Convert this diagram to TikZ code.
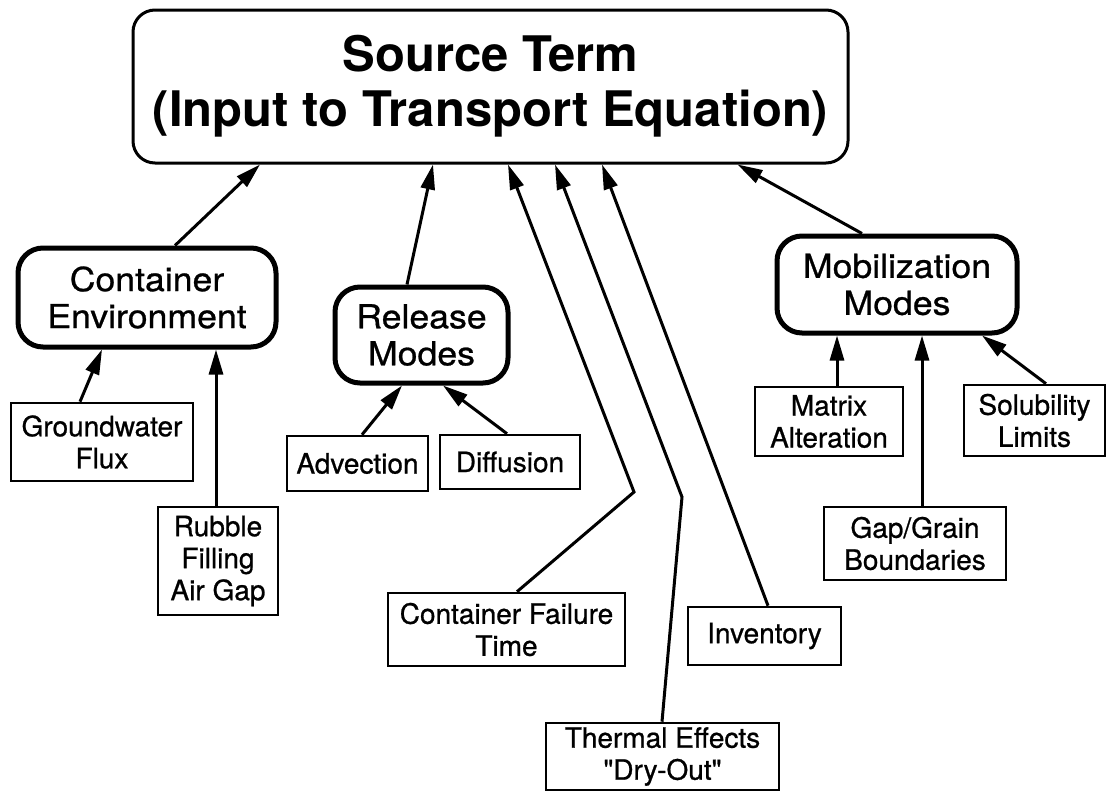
\documentclass[tikz,border=0pt]{standalone}
\usepackage{fontspec}
\setmainfont{TeX Gyre Heros}
\newfontfamily\widefont[FakeStretch=1.08,FakeBold=0.8]{TeX Gyre Heros}
\newfontfamily\factorfont[FakeBold=0.8]{TeX Gyre Heros}
\usetikzlibrary{arrows.meta}
\tikzset{
  titlebox/.style={draw, line width=3pt, rounded corners=22pt, align=center, inner sep=0pt,
    font=\bfseries\fontsize{49pt}{55pt}\selectfont},
  groupbox/.style={draw, line width=5pt, rounded corners=25pt, align=center, inner sep=0pt,
    font=\widefont\fontsize{33pt}{37pt}\selectfont},
  factorbox/.style={draw, line width=2.6pt, align=center, inner sep=0pt,
    font=\factorfont\fontsize{28pt}{32pt}\selectfont},
  link/.style={line width=3pt, -{Triangle[length=25pt,width=14pt]}},
}
\begin{document}
\begin{tikzpicture}[x=1pt,y=-1pt]
\useasboundingbox (0,0) rectangle (1107,793);
% main nodes
\node[titlebox, minimum width=715pt, minimum height=153pt] (src) at (490.5,86.5)
  {Source Term\\(Input to Transport Equation)};
\node[groupbox, minimum width=258pt, minimum height=99pt] (ce) at (147,297.5)
  {Container\\Environment};
\node[groupbox, minimum width=173pt, minimum height=96pt] (rel) at (421.5,335)
  {Release\\Modes};
\node[groupbox, minimum width=240pt, minimum height=97pt] (mob) at (897,284.5)
  {Mobilization\\Modes};
% factor nodes
\node[factorbox, minimum width=182pt, minimum height=78pt] (gw) at (102,442) {Groundwater\\Flux};
\node[factorbox, minimum width=120pt, minimum height=108pt] (rub) at (218,561) {Rubble\\Filling\\Air Gap};
\node[factorbox, minimum width=141pt, minimum height=55pt] (adv) at (357.5,463.5) {Advection};
\node[factorbox, minimum width=140pt, minimum height=54pt] (dif) at (510,462) {Diffusion};
\node[factorbox, minimum width=237pt, minimum height=73pt] (cft) at (506.5,629.5) {Container Failure\\Time};
\node[factorbox, minimum width=153pt, minimum height=58pt] (inv) at (764.5,636) {Inventory};
\node[factorbox, minimum width=233pt, minimum height=67pt] (th) at (662.5,756.5) {Thermal Effects\\\symbol{34}Dry-Out\symbol{34}};
\node[factorbox, minimum width=148pt, minimum height=69pt] (mat) at (829,421.5) {Matrix\\Alteration};
\node[factorbox, minimum width=141pt, minimum height=71pt] (sol) at (1034.5,420.5) {Solubility\\Limits};
\node[factorbox, minimum width=182pt, minimum height=73pt] (gap) at (915,543.5) {Gap/Grain\\Boundaries};
% bend points
\coordinate (b1) at (634,492);
\coordinate (b2) at (682,497);
% connectors to source term
\draw[link] ([xshift=28pt]ce.north) -- ([xshift=-230.5pt]src.south);
\draw[link] ([xshift=-14.5pt]rel.north) -- ([xshift=-57.5pt]src.south);
\draw[link] ([xshift=10.5pt]cft.north) -- (b1) -- ([xshift=17.5pt]src.south);
\draw[link] ([xshift=-0.5pt]th.north) -- (b2) -- ([xshift=64.5pt]src.south);
\draw[link] ([xshift=3.5pt]inv.north) -- ([xshift=111.5pt]src.south);
\draw[link] ([xshift=-35pt]mob.north) -- ([xshift=247pt]src.south);
% connectors to groups
\draw[link] ([xshift=-22pt]gw.north) -- ([xshift=-45pt]ce.south);
\draw[link] ([xshift=-2pt]rub.north) -- ([xshift=69pt]ce.south);
\draw[link] ([xshift=4.5pt]adv.north) -- ([xshift=-19.5pt]rel.south);
\draw[link] ([xshift=-3pt]dif.north) -- ([xshift=21.5pt]rel.south);
\draw[link] ([xshift=8pt]mat.north) -- ([xshift=-60pt]mob.south);
\draw[link] ([xshift=7pt]gap.north) -- ([xshift=25pt]mob.south);
\draw[link] ([xshift=11.5pt]sol.north) -- ([xshift=85pt]mob.south);
\end{tikzpicture}
\end{document}
